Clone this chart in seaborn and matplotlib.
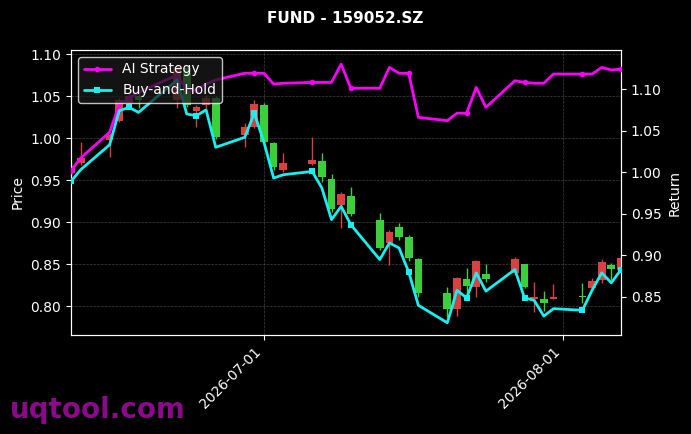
"""
FUND - 159052.SZ : 캔들 + AI 전략 vs Buy-and-Hold
"""
import numpy as np
import pandas as pd
import matplotlib
matplotlib.use("Agg")
import matplotlib.pyplot as plt
import matplotlib.dates as mdates
from matplotlib.ticker import FuncFormatter
import seaborn as sns

# ── 데이터 ─────────────────────────────────────────
dates = pd.to_datetime([
    "2026-06-11", "2026-06-12", "2026-06-15", "2026-06-16", "2026-06-17", "2026-06-18",
    "2026-06-22", "2026-06-23", "2026-06-24", "2026-06-25", "2026-06-26",
    "2026-06-29", "2026-06-30", "2026-07-01", "2026-07-02", "2026-07-03",
    "2026-07-06", "2026-07-07", "2026-07-08", "2026-07-09", "2026-07-10",
    "2026-07-13", "2026-07-14", "2026-07-15", "2026-07-16", "2026-07-17",
    "2026-07-20", "2026-07-21", "2026-07-22", "2026-07-23", "2026-07-24",
    "2026-07-27", "2026-07-28", "2026-07-29", "2026-07-30", "2026-07-31",
    "2026-08-03", "2026-08-04", "2026-08-05", "2026-08-06", "2026-08-07",
])
opens = [0.958, 0.970, 0.998, 1.021, 1.042, 1.050, 1.045, 1.083, 1.032, 1.039, 1.048,
         1.004, 1.013, 1.039, 0.994, 0.962, 0.969, 0.973, 0.951, 0.920, 0.931,
         0.902, 0.875, 0.894, 0.882, 0.856, 0.816, 0.796, 0.832, 0.823, 0.838,
         0.839, 0.850, 0.808, 0.808, 0.808, 0.812, 0.821, 0.831, 0.849, 0.843]
highs = [0.971, 0.995, 1.006, 1.048, 1.054, 1.054, 1.088, 1.086, 1.039, 1.051, 1.050,
         1.018, 1.045, 1.042, 0.995, 0.982, 1.001, 0.982, 0.957, 0.936, 0.942,
         0.911, 0.891, 0.899, 0.885, 0.857, 0.823, 0.835, 0.845, 0.855, 0.850,
         0.858, 0.850, 0.829, 0.818, 0.826, 0.827, 0.833, 0.856, 0.851, 0.860]
lows = [0.955, 0.968, 0.977, 1.019, 1.036, 1.036, 1.036, 1.037, 1.013, 1.036, 0.999,
        0.989, 1.012, 0.994, 0.962, 0.960, 0.968, 0.948, 0.912, 0.893, 0.907,
        0.867, 0.849, 0.879, 0.854, 0.811, 0.787, 0.788, 0.816, 0.811, 0.829,
        0.837, 0.821, 0.793, 0.794, 0.808, 0.804, 0.820, 0.827, 0.831, 0.842]
closes = [0.967, 0.976, 1.004, 1.045, 1.050, 1.045, 1.085, 1.039, 1.037, 1.048, 1.001,
          1.013, 1.041, 0.995, 0.966, 0.970, 0.974, 0.954, 0.916, 0.933, 0.910,
          0.869, 0.888, 0.882, 0.857, 0.816, 0.796, 0.833, 0.824, 0.854, 0.832,
          0.856, 0.823, 0.811, 0.804, 0.811, 0.811, 0.830, 0.852, 0.844, 0.857]

ai_strategy = [1.002, 1.017, 1.048, 1.081, 1.089, 1.096, 1.117, 1.099, 1.099, 1.106, 1.111,
               1.119, 1.119, 1.119, 1.106, 1.107, 1.108, 1.108, 1.108, 1.130, 1.101,
               1.101, 1.126, 1.119, 1.119, 1.066, 1.062, 1.071, 1.071, 1.102, 1.078,
               1.110, 1.108, 1.107, 1.107, 1.118, 1.118, 1.118, 1.126, 1.123, 1.124]
buy_hold = [0.989, 1.003, 1.033, 1.074, 1.078, 1.072, 1.111, 1.070, 1.068, 1.075, 1.030,
            1.042, 1.071, 1.036, 0.993, 0.997, 1.001, 0.981, 0.943, 0.959, 0.937,
            0.895, 0.915, 0.909, 0.880, 0.840, 0.819, 0.858, 0.849, 0.879, 0.857,
            0.883, 0.849, 0.846, 0.827, 0.836, 0.834, 0.858, 0.879, 0.867, 0.883]

UP, DOWN = "#d94040", "#3ccf3c"

sns.set_style("dark", {"axes.facecolor": "black", "figure.facecolor": "black",
                       "axes.edgecolor": "white", "text.color": "white",
                       "xtick.color": "white", "ytick.color": "white",
                       "axes.labelcolor": "white"})
plt.rcParams["font.family"] = ["DejaVu Sans"]

fig, ax = plt.subplots(figsize=(6.91, 4.34), dpi=100)
fig.subplots_adjust(left=71 / 691, right=621 / 691, top=1 - 50 / 434, bottom=1 - 335 / 434)

# ── 캔들 ──────────────────────────────────────────────
o, h, l, c = map(np.array, (opens, highs, lows, closes))
cols = [UP if cc >= oo else DOWN for oo, cc in zip(o, c)]
ax.vlines(dates, l, h, colors=cols, lw=1, zorder=2)
body = np.maximum(np.abs(c - o), 0.0015)
ax.bar(dates, body, bottom=np.minimum(o, c), width=0.8, color=cols,
       edgecolor=cols, linewidth=0, zorder=3)

ax.set_ylim(0.7655, 1.105)
ax.set_yticks(np.arange(0.80, 1.101, 0.05))
ax.yaxis.set_major_formatter(FuncFormatter(lambda v, p: f"{v:.2f}"))
ax.set_ylabel("Price")
ax.grid(True, ls="--", lw=0.5, color="gray", alpha=0.5)
ax.set_xlim(dates[0], dates[-1])
ax.xaxis.set_major_locator(mdates.MonthLocator())
ax.xaxis.set_major_formatter(mdates.DateFormatter("%Y-%m-%d"))
ax.tick_params(axis="both", length=3.5, width=0.8, colors="white", bottom=True, left=True)
plt.setp(ax.get_xticklabels(), rotation=45, ha="right")
for s in ax.spines.values():
    s.set_color("white")

# ── 수익률 곡선 (오른쪽 축) ───────────────────────────────
ax2 = ax.twinx()
sns.lineplot(x=dates, y=ai_strategy, ax=ax2, color="#ff00ff", lw=2, marker="o",
             markersize=4, markeredgewidth=0, markevery=4, label="AI Strategy", zorder=5)
sns.lineplot(x=dates, y=buy_hold, ax=ax2, color="#18f0f0", lw=2, marker="s",
             markersize=4, markeredgewidth=0, markevery=4, label="Buy-and-Hold", zorder=5)
ax2.set_ylim(0.8043, 1.147)
ax2.set_yticks(np.arange(0.85, 1.101, 0.05))
ax2.yaxis.set_major_formatter(FuncFormatter(lambda v, p: f"{v:.2f}"))
ax2.set_ylabel("Return")
ax2.grid(False)
ax2.tick_params(axis="y", length=3.5, width=0.8, colors="white", right=True)
ax2.set_xlim(dates[0], dates[-1])
for s in ax2.spines.values():
    s.set_color("white")
leg = ax2.legend(loc="upper left", fontsize=10, facecolor="#1a1a1a", edgecolor="white",
                 framealpha=0.75, labelcolor="white")

fig.suptitle("FUND - 159052.SZ", fontsize=11, fontweight="bold", color="white", y=0.975)
fig.text(10 / 691, 16 / 434, "uqtool.com", fontsize=20, fontweight="bold",
         color="#8a0a8a", va="baseline", ha="left")

plt.savefig("out.png", dpi=100, facecolor="black")
